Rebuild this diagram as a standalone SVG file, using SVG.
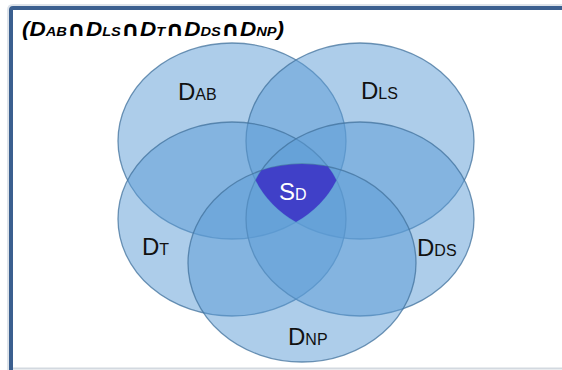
<svg xmlns="http://www.w3.org/2000/svg" width="562" height="370" viewBox="0 0 562 370">
<style>
.set{fill:#5b9bd5;fill-opacity:0.5;stroke:#41719c;stroke-opacity:0.75;stroke-width:1.3}
.lbl{font-family:"Liberation Sans",Arial,sans-serif;font-size:24px;fill:#111}
.sub{font-size:16px}
.title{font-family:"Liberation Sans",Arial,sans-serif;font-size:20px;font-weight:bold;font-style:italic;fill:#000}
.tsub{font-size:13px}
.cap{font-family:"DejaVu Sans",sans-serif;font-style:normal;font-weight:bold;font-size:21px}
</style>
<defs>
<clipPath id="cAB"><ellipse cx="232" cy="141" rx="114" ry="98"/></clipPath>
<clipPath id="cLS" clip-path="url(#cAB)"><ellipse cx="360" cy="141" rx="114" ry="98"/></clipPath>
<clipPath id="cT" clip-path="url(#cLS)"><ellipse cx="232" cy="219" rx="114" ry="97"/></clipPath>
<clipPath id="cDS" clip-path="url(#cT)"><ellipse cx="360" cy="219" rx="114" ry="97"/></clipPath>
<clipPath id="cNP" clip-path="url(#cDS)"><ellipse cx="302" cy="263" rx="114" ry="99"/></clipPath>
</defs>
<rect width="562" height="370" fill="#fff"/>
<g id="frame">
<path d="M10,370 V10 Q10,7 13,7 H562" fill="none" stroke="#dde3ea" stroke-width="6"/>
<path d="M11,370 V10 Q11,8 13,8 H562" fill="none" stroke="#3b5f8f" stroke-width="4"/>
<line x1="13" y1="368.5" x2="562" y2="368.5" stroke="#d3d9e0" stroke-width="2"/>
</g>
<g id="title">
<text class="title" x="22" y="36" textLength="262" lengthAdjust="spacingAndGlyphs">(D<tspan class="tsub">AB</tspan><tspan class="cap">∩</tspan>D<tspan class="tsub">LS</tspan><tspan class="cap">∩</tspan>D<tspan class="tsub">T</tspan><tspan class="cap">∩</tspan>D<tspan class="tsub">DS</tspan><tspan class="cap">∩</tspan>D<tspan class="tsub">NP</tspan>)</text>
</g>
<g id="DAB"><ellipse class="set" cx="232" cy="141" rx="114" ry="98"/></g>
<g id="DLS"><ellipse class="set" cx="360" cy="141" rx="114" ry="98"/></g>
<g id="DT"><ellipse class="set" cx="232" cy="219" rx="114" ry="97"/></g>
<g id="DDS"><ellipse class="set" cx="360" cy="219" rx="114" ry="97"/></g>
<g id="DNP"><ellipse class="set" cx="302" cy="263" rx="114" ry="99"/></g>
<g id="SD">
<rect x="0" y="0" width="562" height="370" fill="#4040c8" clip-path="url(#cNP)"/>
<text class="lbl" x="279" y="200" style="fill:#fff">S<tspan class="sub">D</tspan></text>
</g>
<g id="labels">
<text class="lbl" x="178" y="100">D<tspan class="sub">AB</tspan></text>
<text class="lbl" x="361" y="99">D<tspan class="sub">LS</tspan></text>
<text class="lbl" x="142" y="255">D<tspan class="sub">T</tspan></text>
<text class="lbl" x="417" y="256">D<tspan class="sub">DS</tspan></text>
<text class="lbl" x="288" y="345">D<tspan class="sub">NP</tspan></text>
</g>
</svg>
